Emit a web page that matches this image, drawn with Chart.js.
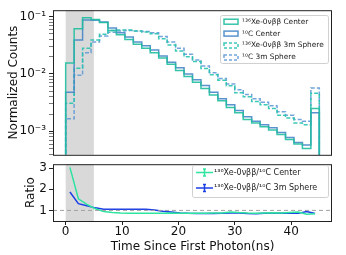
<!DOCTYPE html>
<html>
<head>
<meta charset="utf-8">
<script src="https://cdn.jsdelivr.net/npm/chart.js@4.4.1/dist/chart.umd.min.js"></script>
<style>
  html, body { margin: 0; padding: 0; background: #fff; }
  #wrap { position: relative; width: 346px; height: 255px; overflow: hidden; }
  canvas { position: absolute; left: 0; }
  #topCanvas { top: 0; }
  #ratioCanvas { top: 155px; }
</style>
</head>
<body>
<div id="wrap">
  <canvas id="topCanvas" width="346" height="165"></canvas>
  <canvas id="ratioCanvas" width="346" height="100"></canvas>
</div>
<script>
// bin edges (ns) and bin centres used by the ratio panel
const binEdges = [0, 1.5, 3, 4.5, 6, 7.5, 9, 10.5, 12, 13.5, 15, 16.5, 18, 19.5, 21, 22.5,
  24, 25.5, 27, 28.5, 30, 31.5, 33, 34.5, 36, 37.5, 39, 40.5, 42, 43.5, 45];
const binCenters = [0.75, 2.25, 3.75, 5.25, 6.75, 8.25, 9.75, 11.25, 12.75, 14.25, 15.75,
  17.25, 18.75, 20.25, 21.75, 23.25, 24.75, 26.25, 27.75, 29.25, 30.75, 32.25, 33.75,
  35.25, 36.75, 38.25, 39.75, 41.25, 42.75, 44.25];

// normalized counts per bin
const xeCenter = [0.0155, 0.061, 0.095, 0.089, 0.079, 0.057, 0.048, 0.040, 0.033, 0.028,
  0.0235, 0.019, 0.0147, 0.0115, 0.0090, 0.0072, 0.0056, 0.0043, 0.0034, 0.0026,
  0.0021, 0.0016, 0.0014, 0.0012, 0.00105, 0.00088, 0.00072, 0.00060, 0.00050, 0.0025];
const c10Center = [0.0048, 0.039, 0.087, 0.086, 0.080, 0.063, 0.052, 0.044, 0.036, 0.031,
  0.026, 0.0205, 0.016, 0.0128, 0.0100, 0.0079, 0.0063, 0.0048, 0.0037, 0.0029,
  0.0023, 0.0018, 0.0015, 0.0013, 0.00115, 0.00095, 0.00078, 0.00064, 0.00058, 0.0021];
const xeSphere = [0.0031, 0.0126, 0.028, 0.039, 0.049, 0.057, 0.058, 0.058, 0.056, 0.054,
  0.050, 0.041, 0.032, 0.025, 0.020, 0.0165, 0.0125, 0.0097, 0.0078, 0.0062,
  0.0047, 0.0040, 0.0033, 0.0029, 0.0025, 0.0019, 0.0017, 0.0014, 0.0013, 0.0046];
const c10Sphere = [0.00165, 0.0095, 0.0233, 0.036, 0.046, 0.053, 0.056, 0.057, 0.056, 0.055,
  0.052, 0.045, 0.036, 0.028, 0.022, 0.0175, 0.0138, 0.0105, 0.0083, 0.0067,
  0.0053, 0.0044, 0.0037, 0.0032, 0.0028, 0.0022, 0.0019, 0.0016, 0.0015, 0.0057];

// ratio panel
const ratioCenter = [3.03, 1.55, 1.28, 1.08, 0.95, 0.90, 0.88, 0.87, 0.87, 0.87, 0.87,
  0.87, 0.88, 0.87, 0.86, 0.86, 0.87, 0.88, 0.88, 0.93, 0.90, 0.88, 0.87, 0.88, 0.89,
  0.88, 0.90, 0.92, 0.82, 0.84];
const ratioSphere = [1.87, 1.32, 1.22, 1.12, 1.05, 1.05, 1.06, 1.06, 1.06, 1.05, 1.02,
  0.96, 0.92, 0.88, 0.86, 0.85, 0.85, 0.85, 0.86, 0.88, 0.88, 0.85, 0.84, 0.86, 0.86,
  0.86, 0.87, 0.86, 0.95, 0.85];

// axis ticks
const logTicks = [0.0004, 0.0005, 0.0006, 0.0007, 0.0008, 0.0009, 0.001, 0.002, 0.003,
  0.004, 0.005, 0.006, 0.007, 0.008, 0.009, 0.01, 0.02, 0.03, 0.04, 0.05, 0.06, 0.07,
  0.08, 0.09, 0.1];
const logLabels = { '0.001': '10\u207B\u00B3', '0.01': '10\u207B\u00B2', '0.1': '10\u207B\u00B9' };
const ratioTicks = [1, 2, 3];
const timeTicks = [0, 10, 20, 30, 40];
const shadeRange = [0, 5];

const FONT = 'DejaVu Sans';
const floorValue = 1e-6;  // below the axis so the outer edges run down to the frame

Chart.defaults.font.family = FONT;
Chart.defaults.color = '#111';

// turn per-bin values into step outline points
function histPoints(values) {
  const pts = [{ x: binEdges[0], y: floorValue }];
  values.forEach((v, i) => pts.push({ x: binEdges[i], y: v }));
  pts.push({ x: binEdges[binEdges.length - 1], y: values[values.length - 1] });
  pts.push({ x: binEdges[binEdges.length - 1], y: floorValue });
  return pts;
}

function histSet(label, values, color, dash) {
  return {
    label: label,
    data: histPoints(values),
    borderColor: color,
    backgroundColor: 'rgba(255,255,255,0)',
    borderWidth: 1.5,
    borderDash: dash,
    stepped: 'before',
    pointRadius: 0,
    fill: false
  };
}

// grey band over the first 5 ns
const shadePlugin = {
  id: 'shade',
  beforeDatasetsDraw(chart) {
    const { ctx, chartArea, scales } = chart;
    const x0 = scales.x.getPixelForValue(shadeRange[0]);
    const x1 = scales.x.getPixelForValue(shadeRange[1]);
    ctx.save();
    ctx.fillStyle = 'rgba(128,128,128,0.3)';
    ctx.fillRect(x0, chartArea.top, x1 - x0, chartArea.bottom - chartArea.top);
    ctx.restore();
  }
};

// matplotlib style box round the axes
const framePlugin = {
  id: 'frame',
  afterDatasetsDraw(chart) {
    const { ctx, chartArea } = chart;
    ctx.save();
    ctx.strokeStyle = '#222';
    ctx.lineWidth = 1;
    ctx.strokeRect(chartArea.left + 0.5, chartArea.top + 0.5,
      chartArea.right - chartArea.left - 1, chartArea.bottom - chartArea.top);
    ctx.restore();
  }
};

// legend box drawn inside the axes
const boxLegendPlugin = {
  id: 'boxLegend',
  afterDraw(chart, args, opts) {
    if (!opts.items) return;
    const ctx = chart.ctx;
    ctx.save();
    ctx.fillStyle = 'rgba(255,255,255,0.85)';
    ctx.strokeStyle = '#d0d0d0';
    ctx.lineWidth = 1;
    ctx.beginPath();
    ctx.roundRect(opts.x + 0.5, opts.y + 0.5, opts.w, opts.h, 2);
    ctx.fill();
    ctx.stroke();
    ctx.font = opts.fontSize + 'px ' + FONT;
    ctx.textBaseline = 'middle';
    opts.items.forEach((item, i) => {
      const cy = opts.y + opts.firstRow + i * opts.rowGap;
      const sx = opts.x + 4;
      ctx.strokeStyle = item.color;
      ctx.lineWidth = 1.5;
      if (opts.kind === 'patch') {
        ctx.setLineDash(item.dash || []);
        ctx.strokeRect(sx, cy - 2.5, 14, 5);
        ctx.setLineDash([]);
      } else {
        ctx.beginPath();
        ctx.moveTo(sx, cy);
        ctx.lineTo(sx + 17, cy);
        ctx.moveTo(sx + 8.5, cy - 3.5);
        ctx.lineTo(sx + 8.5, cy + 3.5);
        ctx.moveTo(sx + 7, cy - 3.5);
        ctx.lineTo(sx + 10, cy - 3.5);
        ctx.moveTo(sx + 7, cy + 3.5);
        ctx.lineTo(sx + 10, cy + 3.5);
        ctx.stroke();
      }
      ctx.fillStyle = '#222';
      ctx.fillText(item.label, opts.textX, cy);
    });
    ctx.restore();
  }
};

const tealSolid = 'rgba(32,190,160,0.9)';
const blueSolid = 'rgba(70,135,200,0.9)';
const tealDash = 'rgba(40,195,175,0.9)';
const blueDash = 'rgba(100,155,215,0.9)';
const ratioGreen = '#2fe3a0';
const ratioBlue = '#1c3fe6';

const tickGrid = {
  display: true,
  drawOnChartArea: false,
  drawTicks: true,
  tickLength: 4,
  tickColor: '#222',
  color: '#222'
};

// top panel: normalized counts
new Chart(document.getElementById('topCanvas'), {
  type: 'line',
  data: {
    datasets: [
      histSet('136Xe-0vbb Center', xeCenter, tealSolid, []),
      histSet('10C Center', c10Center, blueSolid, []),
      histSet('136Xe-0vbb 3m Sphere', xeSphere, tealDash, [4, 2]),
      histSet('10C 3m Sphere', c10Sphere, blueDash, [4, 2])
    ]
  },
  options: {
    responsive: false,
    animation: false,
    devicePixelRatio: 1,
    layout: { padding: { left: 0, top: 10, right: 14, bottom: 4 } },
    scales: {
      x: {
        type: 'linear',
        min: -2.25,
        max: 47.25,
        display: false
      },
      y: {
        type: 'logarithmic',
        min: 0.00039,
        max: 0.129,
        afterBuildTicks: scale => { scale.ticks = logTicks.map(v => ({ value: v })); },
        afterFit: scale => { scale.width = 53; },
        border: { display: false },
        grid: Object.assign({}, tickGrid, {
          tickWidth: c => (c.tick && logLabels[String(c.tick.value)] ? 1 : 0.6)
        }),
        ticks: {
          autoSkip: false,
          padding: 3,
          font: { size: 12 },
          callback: v => logLabels[String(v)] || ''
        },
        title: {
          display: true,
          text: 'Normalized Counts',
          font: { size: 12 },
          padding: { top: 7, bottom: 0 }
        }
      }
    },
    plugins: {
      legend: { display: false },
      tooltip: { enabled: false },
      boxLegend: {
        kind: 'patch',
        x: 220, y: 15, w: 108, h: 48,
        firstRow: 6.7, rowGap: 11.9,
        textX: 242,
        fontSize: 7.4,
        items: [
          { label: '\u00B9\u00B3\u2076Xe-0\u03BD\u03B2\u03B2 Center', color: tealSolid },
          { label: '\u00B9\u2070C Center', color: blueSolid },
          { label: '\u00B9\u00B3\u2076Xe-0\u03BD\u03B2\u03B2 3m Sphere', color: tealDash, dash: [3, 2] },
          { label: '\u00B9\u2070C 3m Sphere', color: blueDash, dash: [3, 2] }
        ]
      }
    }
  },
  plugins: [shadePlugin, framePlugin, boxLegendPlugin]
});

// bottom panel: ratio
new Chart(document.getElementById('ratioCanvas'), {
  type: 'line',
  data: {
    datasets: [
      {
        label: 'one',
        data: [{ x: -2.25, y: 1 }, { x: 47.25, y: 1 }],
        borderColor: '#a0a0a0',
        borderWidth: 1,
        borderDash: [4, 3],
        pointRadius: 0
      },
      {
        label: 'Center',
        data: binCenters.map((t, i) => ({ x: t, y: ratioCenter[i] })),
        borderColor: ratioGreen,
        borderWidth: 1.5,
        pointRadius: 0,
        tension: 0
      },
      {
        label: '3m Sphere',
        data: binCenters.map((t, i) => ({ x: t, y: ratioSphere[i] })),
        borderColor: ratioBlue,
        borderWidth: 1.5,
        pointRadius: 0,
        tension: 0
      }
    ]
  },
  options: {
    responsive: false,
    animation: false,
    devicePixelRatio: 1,
    layout: { padding: { left: 0, top: 6, right: 14, bottom: 0 } },
    scales: {
      x: {
        type: 'linear',
        min: -2.25,
        max: 47.25,
        afterBuildTicks: scale => { scale.ticks = timeTicks.map(v => ({ value: v })); },
        afterFit: scale => { scale.height = 34; },
        border: { display: false },
        grid: tickGrid,
        ticks: { autoSkip: false, maxRotation: 0, padding: 0, font: { size: 12 } },
        title: {
          display: true,
          text: 'Time Since First Photon(ns)',
          font: { size: 12 },
          padding: { top: 0, bottom: 1 }
        }
      },
      y: {
        type: 'linear',
        min: 0.5,
        max: 3.18,
        afterBuildTicks: scale => { scale.ticks = ratioTicks.map(v => ({ value: v })); },
        afterFit: scale => { scale.width = 53; },
        border: { display: false },
        grid: tickGrid,
        ticks: { autoSkip: false, padding: 2, font: { size: 12 } },
        title: {
          display: true,
          text: 'Ratio',
          font: { size: 12 },
          padding: { top: 24, bottom: 0 }
        }
      }
    },
    plugins: {
      legend: { display: false },
      tooltip: { enabled: false },
      boxLegend: {
        kind: 'errorbar',
        x: 192, y: 10, w: 136, h: 32,
        firstRow: 7.5, rowGap: 15.5,
        textX: 214,
        fontSize: 8,
        items: [
          { label: '\u00B9\u00B3\u2076Xe-0\u03BD\u03B2\u03B2/\u00B9\u2070C Center', color: ratioGreen },
          { label: '\u00B9\u00B3\u2076Xe-0\u03BD\u03B2\u03B2/\u00B9\u2070C 3m Sphere', color: ratioBlue }
        ]
      }
    }
  },
  plugins: [shadePlugin, framePlugin, boxLegendPlugin]
});
</script>
</body>
</html>
